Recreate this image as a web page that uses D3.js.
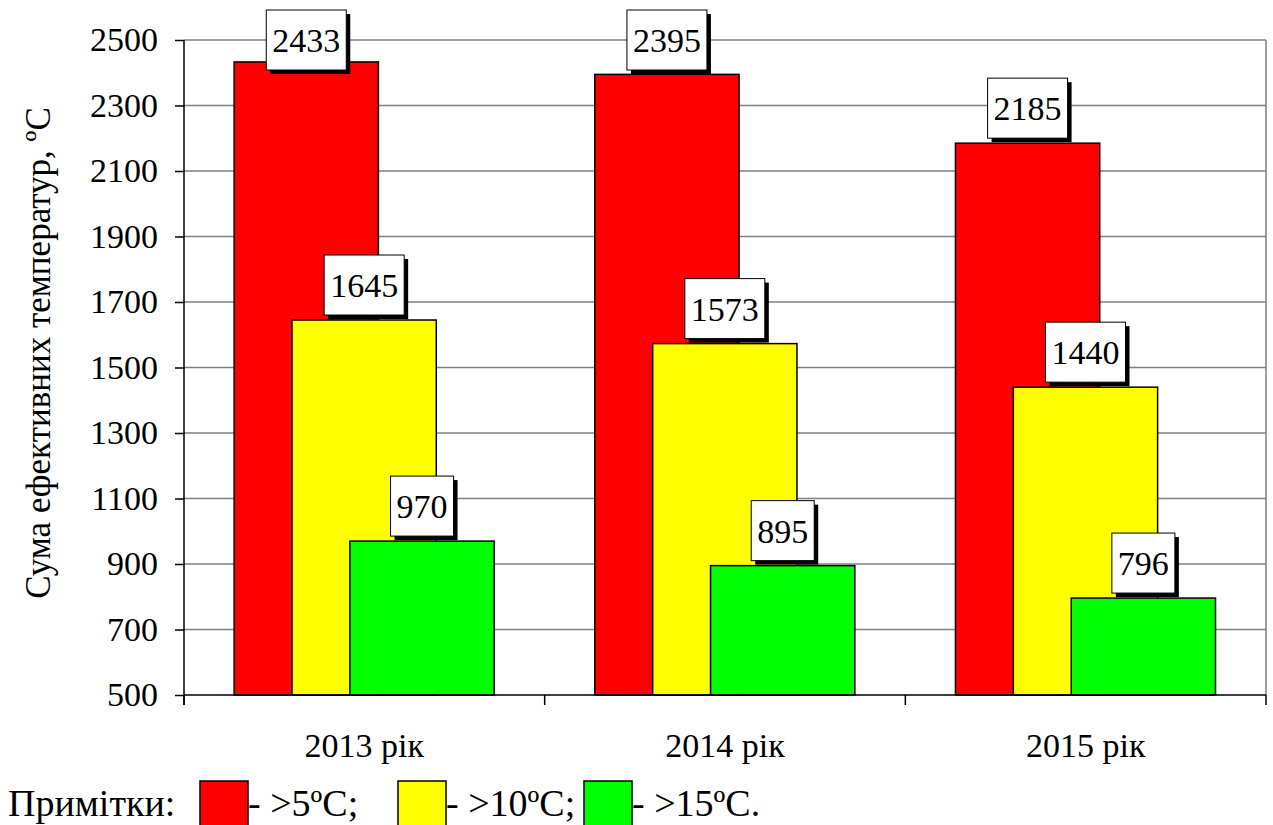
<!DOCTYPE html>
<html>
<head>
<meta charset="utf-8">
<script src="https://cdn.jsdelivr.net/npm/d3@7"></script>
<style>
  html, body { margin: 0; padding: 0; background: #fff; }
  svg { display: block; }
  svg text { font-family: "Liberation Serif", "Times New Roman", serif; }
</style>
</head>
<body>
<svg id="chart" width="1273" height="825"></svg>
<script>
// Суми ефективних температур за роками
const years = ["2013 рік", "2014 рік", "2015 рік"];
const thresholds = [">5ºC", ">10ºC", ">15ºC"];
const above5 = [2433, 2395, 2185];
const above10 = [1645, 1573, 1440];
const above15 = [970, 895, 796];
const yTicks = [500, 700, 900, 1100, 1300, 1500, 1700, 1900, 2100, 2300, 2500];
const colors = ["#ff0000", "#ffff00", "#00ff00"];
const legendText = ["- >5ºC;", "- >10ºC;", "- >15ºC."];

const seriesValues = [above5, above10, above15];

(function draw() {
  const FONT = "Liberation Serif";
  const svg = d3.select("#chart");
  const plotLeft = 184, plotRight = 1266, plotTop = 40, plotBottom = 695;
  const fontSize = 34;

  const x = d3.scaleBand().domain(years).range([plotLeft, plotRight]).padding(0);
  const y = d3.scaleLinear().domain([500, 2500]).range([plotBottom, plotTop]);
  const bw = x.bandwidth();
  const barW = bw * 0.4;
  // overlapping bars inside each year group
  const inner = d3.scaleLinear().domain([0, 2]).range([bw * 0.139, bw * 0.46]);

  // gridlines
  svg.append("g")
    .selectAll("line")
    .data(yTicks.slice(1))
    .join("line")
    .attr("x1", plotLeft).attr("x2", plotRight)
    .attr("y1", d => y(d)).attr("y2", d => y(d))
    .attr("stroke", "#808080").attr("stroke-width", 1.5);

  // right border of plot area
  svg.append("line")
    .attr("x1", plotRight).attr("x2", plotRight)
    .attr("y1", plotTop).attr("y2", plotBottom)
    .attr("stroke", "#808080").attr("stroke-width", 1.5);

  // bars
  const barData = [];
  seriesValues.forEach((vals, si) => {
    vals.forEach((v, ci) => barData.push({ si, ci, v, year: years[ci] }));
  });

  svg.append("g")
    .selectAll("rect")
    .data(barData)
    .join("rect")
    .attr("x", d => x(d.year) + inner(d.si))
    .attr("y", d => y(d.v))
    .attr("width", barW)
    .attr("height", d => y(500) - y(d.v))
    .attr("fill", d => colors[d.si])
    .attr("stroke", "#000").attr("stroke-width", 1.5);

  // y axis
  const yAxis = d3.axisLeft(y).tickValues(yTicks).tickSize(9).tickPadding(17).tickFormat(d3.format("d"));
  const gy = svg.append("g").attr("transform", `translate(${plotLeft},0)`).call(yAxis)
    .attr("font-size", fontSize);
  gy.select(".domain").remove();
  gy.selectAll(".tick line").attr("stroke", "#000").attr("stroke-width", 1.5);
  gy.selectAll(".tick text").attr("fill", "#000").style("font-family", FONT);
  svg.append("line").attr("x1", plotLeft).attr("x2", plotLeft).attr("y1", plotTop).attr("y2", plotBottom + 10)
    .attr("stroke", "#000").attr("stroke-width", 1.5);

  // x axis
  const xAxis = d3.axisBottom(x).tickSize(0).tickPadding(0).tickFormat(d => d);
  const gx = svg.append("g").attr("transform", `translate(0,${plotBottom})`).call(xAxis)
    .attr("font-size", fontSize);
  gx.select(".domain").remove();
  gx.selectAll(".tick text").attr("fill", "#000").attr("dy", null).attr("y", 62).style("font-family", FONT);
  svg.append("line").attr("x1", plotLeft).attr("x2", plotRight).attr("y1", plotBottom).attr("y2", plotBottom)
    .attr("stroke", "#000").attr("stroke-width", 1.5);
  svg.append("g").selectAll("line")
    .data(years.map(d => x(d)).concat([plotRight]))
    .join("line")
    .attr("x1", d => d).attr("x2", d => d)
    .attr("y1", plotBottom).attr("y2", plotBottom + 10)
    .attr("stroke", "#000").attr("stroke-width", 1.5);

  // y axis title
  svg.append("text")
    .attr("transform", "translate(50,353) rotate(-90)")
    .attr("text-anchor", "middle")
    .style("font-family", FONT)
    .attr("font-size", 35)
    .text("Сума ефективних температур, ºС");

  // value labels in boxed callouts with shadow
  const labels = svg.append("g");
  barData.forEach(d => {
    const cx = x(d.year) + inner(d.si) + barW / 2;
    const g = labels.append("g");
    const t = g.append("text")
      .attr("text-anchor", "middle")
      .style("font-family", FONT)
      .attr("font-size", fontSize)
      .text(d.v);
    const tw = t.node().getComputedTextLength();
    const w = tw + 12, h = 60;
    let cy = y(d.v) - 35;
    if (cy - h / 2 < 10) cy = 10 + h / 2;
    g.insert("rect", "text")
      .attr("x", cx - w / 2 + 4).attr("y", cy - h / 2 + 4)
      .attr("width", w).attr("height", h).attr("fill", "#000");
    g.insert("rect", "text")
      .attr("x", cx - w / 2).attr("y", cy - h / 2)
      .attr("width", w).attr("height", h)
      .attr("fill", "#fff").attr("stroke", "#000").attr("stroke-width", 1);
    t.attr("x", cx).attr("y", cy + 12);
  });

  // legend
  const legendSize = 38;
  const legend = svg.append("g");
  legend.append("text").attr("x", 8).attr("y", 816)
    .style("font-family", FONT).attr("font-size", legendSize).text("Примітки:");
  const legendX = [200, 398, 584];
  thresholds.forEach((th, i) => {
    legend.append("rect")
      .attr("x", legendX[i]).attr("y", 781)
      .attr("width", 48).attr("height", 60)
      .attr("fill", colors[i]).attr("stroke", "#000").attr("stroke-width", 1.5);
    legend.append("text")
      .attr("x", legendX[i] + 48).attr("y", 816)
      .style("font-family", FONT).attr("font-size", legendSize)
      .text(legendText[i]);
  });
})();
</script>
</body>
</html>
